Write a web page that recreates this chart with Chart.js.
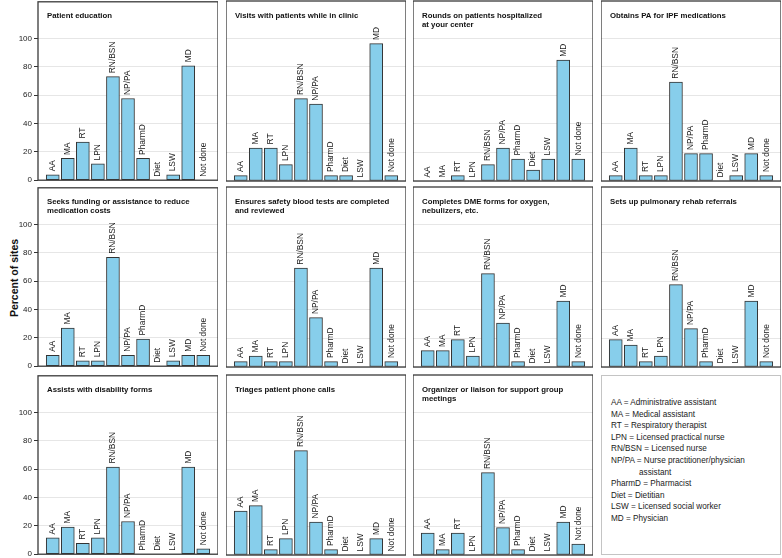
<!DOCTYPE html>
<html>
<head>
<meta charset="utf-8">
<script src="https://cdn.jsdelivr.net/npm/chart.js@4.4.1/dist/chart.umd.min.js"></script>
<style>
  body { margin: 0; background: #fff; }
  #figure {
    position: relative; width: 782px; height: 558px; overflow: hidden;
    font-family: "Liberation Sans", Arial, sans-serif; color: #1a1a1a;
  }
  #figure canvas { position: absolute; }
  .y-title {
    position: absolute; left: 14px; top: 278px;
    transform: translate(-50%, -50%) rotate(-90deg);
    font-weight: bold; font-size: 10.5px; white-space: nowrap; color: #111;
  }
  .key {
    position: absolute; left: 601px; top: 375px; width: 180px; height: 180px;
    box-sizing: border-box; border: 1px solid #c4c4c4;
    padding: 21px 0 0 9px; font-size: 8.2px; line-height: 11.6px; white-space: nowrap;
  }
  .key .indent { padding-left: 28px; }
</style>
</head>
<body>
<div id="figure">
  <div class="y-title">Percent of sites</div>
  <div class="key" id="key"></div>
</div>
<script>
const roles = ["AA", "MA", "RT", "LPN", "RN/BSN", "NP/PA", "PharmD", "Diet", "LSW", "MD", "Not done"];

const yTicks = [0, 20, 40, 60, 80, 100];

// percent of sites, one value per role, in the order above
const patientEducation = [3.8, 15.4, 26.9, 11.5, 73.1, 57.7, 15.4, 0, 3.8, 80.8, 0];
const visitsInClinic = [3.8, 23.1, 23.1, 11.5, 57.7, 53.8, 3.8, 3.8, 0, 96.2, 3.8];
const roundsHospitalized = [0, 0, 3.8, 0, 11.5, 23.1, 15.4, 7.7, 15.4, 84.6, 15.4];
const obtainsPA = [3.8, 23.1, 3.8, 3.8, 69.2, 19.2, 19.2, 0, 3.8, 19.2, 3.8];
const seeksFunding = [7.7, 26.9, 3.8, 3.8, 76.9, 7.7, 19.2, 0, 3.8, 7.7, 7.7];
const safetyBloodTests = [3.8, 7.7, 3.8, 3.8, 69.2, 34.6, 3.8, 0, 0, 69.2, 3.8];
const dmeForms = [11.5, 11.5, 19.2, 7.7, 65.4, 30.8, 3.8, 0, 0, 46.2, 3.8];
const rehabReferrals = [19.2, 15.4, 3.8, 7.7, 57.7, 26.9, 3.8, 0, 0, 46.2, 3.8];
const disabilityForms = [11.5, 19.2, 7.7, 11.5, 61.5, 23.1, 0, 0, 0, 61.5, 3.8];
const phoneTriage = [30.8, 34.6, 3.8, 11.5, 73.1, 23.1, 3.8, 0, 0, 11.5, 0];
const supportGroups = [15.4, 3.8, 15.4, 0, 57.7, 19.2, 3.8, 0, 0, 23.1, 7.7];

const taskTitles = [
  ["Patient education"],
  ["Visits with patients while in clinic"],
  ["Rounds on patients hospitalized", "at your center"],
  ["Obtains PA for IPF medications"],
  ["Seeks funding or assistance to reduce", "medication costs"],
  ["Ensures safety blood tests are completed", "and reviewed"],
  ["Completes DME forms for oxygen,", "nebulizers, etc."],
  ["Sets up pulmonary rehab referrals"],
  ["Assists with disability forms"],
  ["Triages patient phone calls"],
  ["Organizer or liaison for support group", "meetings"],
];

const taskValues = [
  patientEducation, visitsInClinic, roundsHospitalized, obtainsPA,
  seeksFunding, safetyBloodTests, dmeForms, rehabReferrals,
  disabilityForms, phoneTriage, supportGroups,
];

const keyLines = [
  "AA = Administrative assistant",
  "MA = Medical assistant",
  "RT = Respiratory therapist",
  "LPN = Licensed practical nurse",
  "RN/BSN = Licensed nurse",
  "NP/PA = Nurse practitioner/physician",
  "assistant",
  "PharmD = Pharmacist",
  "Diet = Dietitian",
  "LSW = Licensed social worker",
  "MD = Physician",
];

const family = "'Liberation Sans', Arial, sans-serif";
const colLeft = [38, 226, 413, 601];
const rowTop = [1, 187, 375];
const pad = 6;

// role names above the bars, the panel title and the frame
const panelDecor = {
  id: "panelDecor",
  afterDatasetsDraw(chart, args, opts) {
    const { ctx, chartArea: a } = chart;
    ctx.save();

    ctx.font = `8.4px ${family}`;
    ctx.fillStyle = "#1a1a1a";
    ctx.textAlign = "left";
    ctx.textBaseline = "middle";
    chart.getDatasetMeta(0).data.forEach((bar, i) => {
      ctx.save();
      ctx.translate(bar.x, bar.y - 3.5);
      ctx.rotate(-Math.PI / 2);
      ctx.fillText(roles[i], 0, 0);
      ctx.restore();
    });

    ctx.font = `bold 7.8px ${family}`;
    ctx.fillStyle = "#111";
    ctx.textBaseline = "alphabetic";
    opts.title.forEach((line, k) => ctx.fillText(line, a.left + 9, a.top + 16.5 + k * 9));

    ctx.strokeStyle = "#3a3a3a";
    ctx.lineWidth = 1.3;
    ctx.strokeRect(a.left, a.top, a.right - a.left, a.bottom - a.top);
    ctx.restore();
  }
};

const figure = document.getElementById("figure");

taskValues.forEach((values, n) => {
  const col = n % 4;
  const row = Math.floor(n / 4);
  const first = col === 0;
  const axisW = first ? 22 : 0;

  const canvas = document.createElement("canvas");
  canvas.width = 180 + axisW;
  canvas.height = 180 + 2 * pad;
  canvas.style.left = (colLeft[col] - axisW) + "px";
  canvas.style.top = (rowTop[row] - pad) + "px";
  figure.appendChild(canvas);

  new Chart(canvas, {
    type: "bar",
    data: {
      datasets: [{
        data: values.map((v, i) => ({ x: i, y: v })),
        backgroundColor: "#87ceeb",
        borderColor: "#333",
        borderWidth: 1,
        borderSkipped: false,
        barThickness: 13,
      }]
    },
    options: {
      responsive: false,
      animation: false,
      events: [],
      layout: { padding: { top: pad, bottom: pad, left: 0, right: 0 } },
      plugins: {
        legend: { display: false },
        tooltip: { enabled: false },
        panelDecor: { title: taskTitles[n] },
      },
      scales: {
        x: {
          type: "linear", min: -0.98, max: 10.98, display: false,
          offset: false, grid: { offset: false },
        },
        y: {
          min: 0,
          max: 126,
          afterBuildTicks: s => { s.ticks = yTicks.map(v => ({ value: v })); },
          afterFit: s => { s.width = axisW; },
          border: { display: false },
          grid: { color: "#e6e6e6", drawTicks: first, tickLength: 4, tickColor: "#333" },
          ticks: { display: first, padding: 2, color: "#222", font: { size: 8, family: family } },
        },
      },
    },
    plugins: [panelDecor],
  });
});

const key = document.getElementById("key");
keyLines.forEach(line => {
  const div = document.createElement("div");
  div.textContent = line;
  if (!line.includes("=")) div.className = "indent";
  key.appendChild(div);
});
</script>
</body>
</html>
